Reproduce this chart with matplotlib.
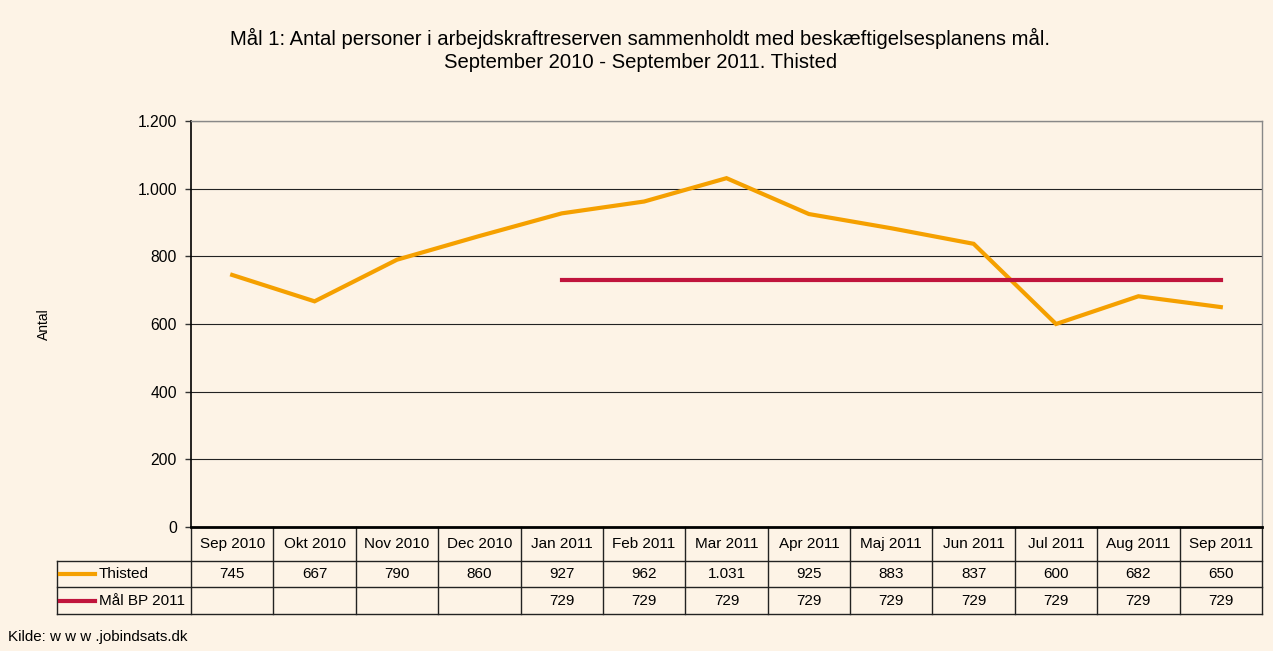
import matplotlib
matplotlib.use("Agg")
import matplotlib.pyplot as plt
from matplotlib.ticker import FuncFormatter, MultipleLocator

plt.rcParams['font.family'] = ['Liberation Sans', 'DejaVu Sans']

months = ["Sep 2010", "Okt 2010", "Nov 2010", "Dec 2010", "Jan 2011", "Feb 2011",
          "Mar 2011", "Apr 2011", "Maj 2011", "Jun 2011", "Jul 2011", "Aug 2011",
          "Sep 2011"]
thisted = [745, 667, 790, 860, 927, 962, 1031, 925, 883, 837, 600, 682, 650]
maal_bp = [None, None, None, None, 729, 729, 729, 729, 729, 729, 729, 729, 729]

BG = "#FDF3E6"
ORANGE = "#F5A000"
RED = "#C0143C"


def dk(v):
    return f"{int(v):,}".replace(",", ".")


fig = plt.figure(figsize=(12.73, 6.51), dpi=100, facecolor=BG)
ax = fig.add_axes([191 / 1273, 1 - 527 / 651, (1262 - 191) / 1273, 406 / 651])
ax.set_facecolor(BG)

x = list(range(len(months)))
ax.plot(x, thisted, color=ORANGE, lw=3, solid_joinstyle="miter", zorder=3)
mx = [i for i, v in zip(x, maal_bp) if v is not None]
my = [v for v in maal_bp if v is not None]
ax.plot(mx, my, color=RED, lw=3, zorder=3)

ax.set_xlim(-0.5, len(months) - 0.5)
ax.set_ylim(0, 1200)
ax.yaxis.set_major_locator(MultipleLocator(200))
ax.yaxis.set_major_formatter(FuncFormatter(lambda v, p: dk(v)))
ax.set_xticks([])
ax.tick_params(axis="y", length=4, width=1, labelsize=11.3, pad=6, color="#333333")
ax.grid(axis="y", color="#222222", lw=0.8)
ax.set_axisbelow(True)
for s in ["top", "right"]:
    ax.spines[s].set_color("#888888")
    ax.spines[s].set_linewidth(1)
ax.spines["left"].set_linewidth(1.2)
ax.spines["bottom"].set_linewidth(2)
ax.spines["bottom"].set_zorder(4)

ax.set_ylabel("Antal", fontsize=10, labelpad=62)

# data table below the axes
tr = ax.get_xaxis_transform()
y_head, y_r1, y_r2 = -0.0837, -0.1478, -0.2143
left_lab = -2.127
right = len(months) - 0.5
kw = dict(transform=tr, clip_on=False, color="#222222", lw=1)
for i in range(len(months) + 1):
    xb = i - 0.5
    ax.plot([xb, xb], [0, y_r2], **kw)
ax.plot([left_lab, right], [y_head, y_head], **kw)
ax.plot([left_lab, right], [y_r1, y_r1], **kw)
ax.plot([left_lab, right], [y_r2, y_r2], **kw)
ax.plot([left_lab, left_lab], [y_head, y_r2], **kw)

for i, m in enumerate(months):
    ax.text(i, y_head / 2, m, transform=tr, ha="center", va="center", fontsize=11)
    ax.text(i, (y_head + y_r1) / 2, dk(thisted[i]), transform=tr,
            ha="center", va="center", fontsize=11)
    if maal_bp[i] is not None:
        ax.text(i, (y_r1 + y_r2) / 2, dk(maal_bp[i]), transform=tr,
                ha="center", va="center", fontsize=11)

for (yc, col, name) in [((y_head + y_r1) / 2, ORANGE, "Thisted"),
                        ((y_r1 + y_r2) / 2, RED, "Mål BP 2011")]:
    ax.plot([-2.09, -1.66], [yc, yc], transform=tr, clip_on=False,
            color=col, lw=3)
    ax.text(-1.62, yc, name, transform=tr, ha="left", va="center", fontsize=11)

fig.text(0.503, 1 - 38 / 651,
         "Mål 1: Antal personer i arbejdskraftreserven sammenholdt med beskæftigelsesplanens mål.",
         ha="center", va="center", fontsize=14.6)
fig.text(0.503, 1 - 62 / 651, "September 2010 - September 2011. Thisted",
         ha="center", va="center", fontsize=14.6)
fig.text(8 / 1273, 1 - 637 / 651, "Kilde: w w w .jobindsats.dk",
         ha="left", va="center", fontsize=10.9)

fig.savefig("out.png", dpi=100, facecolor=BG)
